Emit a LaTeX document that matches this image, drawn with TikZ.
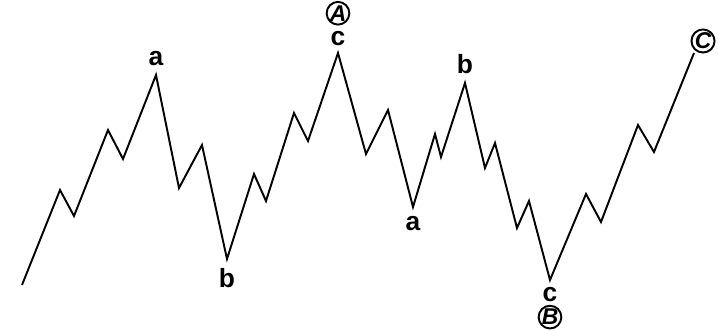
\documentclass[tikz,border=0pt]{standalone}
\usepackage{fontspec}
\setmainfont{Liberation Sans}
\usetikzlibrary{positioning}

\tikzset{
  wave/.style={line width=1.1pt, line join=miter},
  lbl/.style={inner sep=0pt, font=\fontsize{15}{15}\selectfont\bfseries},
  ring/.style={draw, circle, line width=1.1pt, inner sep=0pt, minimum size=0.42cm,
               font=\fontsize{13}{13}\selectfont\bfseries\itshape}
}

\begin{document}
\begin{tikzpicture}[x=0.02cm, y=-0.02cm]
  \useasboundingbox (0,0) rectangle (718,331);
  % turning points of the wave
  \coordinate (p0) at (22,285);
  \coordinate (p1) at (60,190);
  \coordinate (p2) at (74,216);
  \coordinate (p3) at (108,130);
  \coordinate (p4) at (123,159);
  \coordinate (p5) at (156,75);
  \coordinate (p6) at (179,188);
  \coordinate (p7) at (202,145);
  \coordinate (p8) at (227,259);
  \coordinate (p9) at (254,174);
  \coordinate (p10) at (266,201);
  \coordinate (p11) at (294,113);
  \coordinate (p12) at (308,141);
  \coordinate (p13) at (338,53);
  \coordinate (p14) at (366,154);
  \coordinate (p15) at (388,110);
  \coordinate (p16) at (413,207);
  \coordinate (p17) at (435,134);
  \coordinate (p18) at (441,157);
  \coordinate (p19) at (465,83);
  \coordinate (p20) at (485,168);
  \coordinate (p21) at (495,143);
  \coordinate (p22) at (517,228);
  \coordinate (p23) at (529,201);
  \coordinate (p24) at (550,280);
  \coordinate (p25) at (586,194);
  \coordinate (p26) at (601,222);
  \coordinate (p27) at (638,125);
  \coordinate (p28) at (654,152);
  \coordinate (p29) at (694,53);

  \draw[wave] (p0) \foreach \i in {1,...,29} { -- (p\i) };

  % wave labels
  \node[lbl, above=5pt of p5] (a1) {a};
  \node[lbl, below=5pt of p8] (b1) {b};
  \node[lbl, above=4pt of p13] (c1) {c};
  \node[ring, minimum size=0.38cm, above=3pt of c1] (A) {A};
  \node[lbl, below=5pt of p16] (a2) {a};
  \node[lbl, above=5pt of p19] (b2) {b};
  \node[lbl, below=4pt of p24] (c2) {c};
  \node[ring, below=1.5pt of c2] (B) {B};
  \node[ring, minimum size=0.44cm] (C) at (703,41) {C};
\end{tikzpicture}
\end{document}
